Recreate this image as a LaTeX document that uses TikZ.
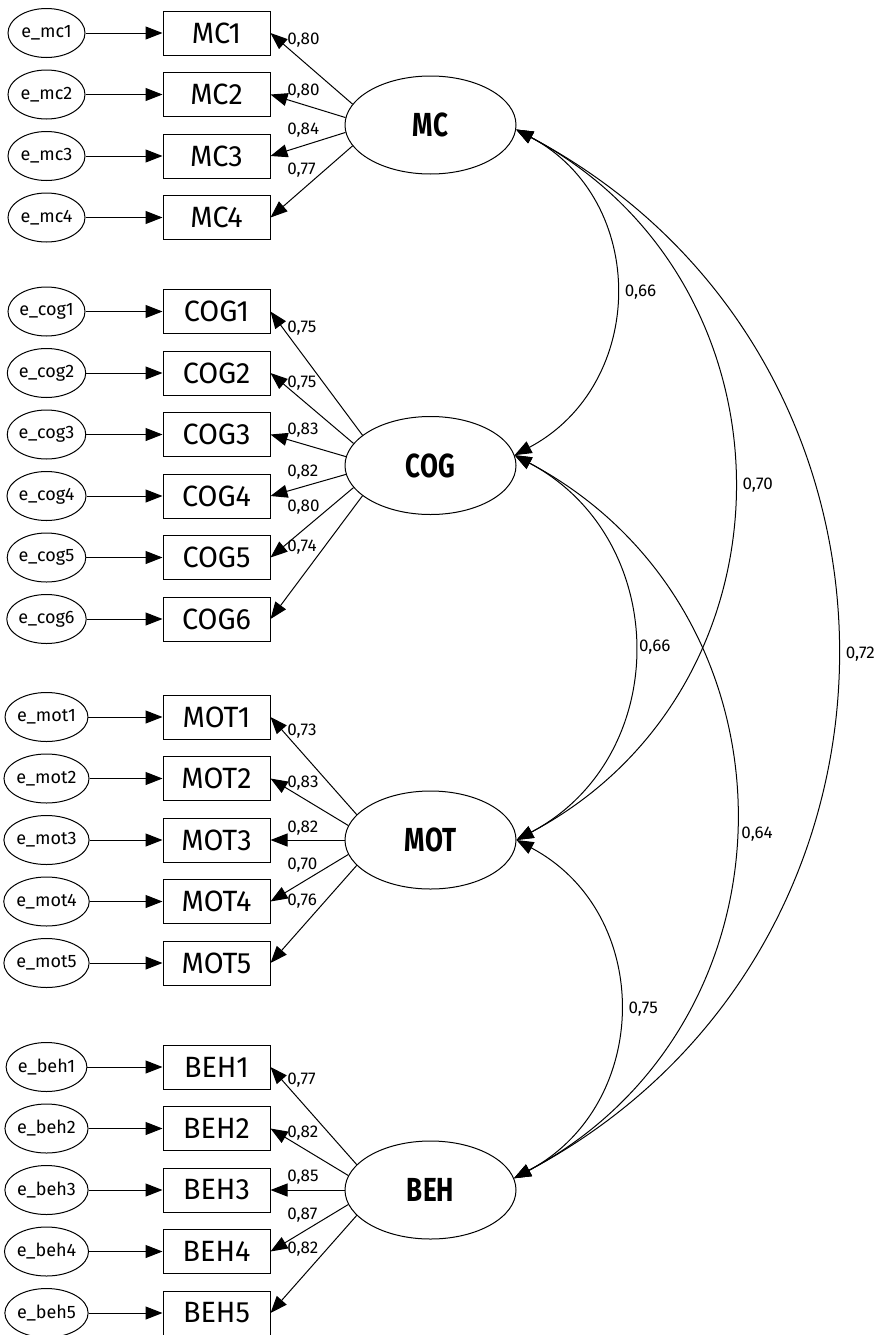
\documentclass[tikz,border=0pt]{standalone}
\usepackage{fontspec}
\setmainfont{Fira Sans}
\newfontfamily\obsfont[FakeStretch=0.98]{Fira Sans}
\newfontfamily\latfont[FakeStretch=0.78]{Fira Sans}
\usetikzlibrary{shapes.geometric}
\usetikzlibrary{arrows.meta}

\begin{document}
\begin{tikzpicture}[x=0.75pt, y=-0.75pt]

  \tikzset{err/.style = {shape=ellipse,draw,line width=0.75pt,minimum width=57.75pt,minimum height=36.75pt,inner sep=0pt,font=\fontsize{13.5}{15}\selectfont}}
  \tikzset{obs/.style = {shape=rectangle,draw,line width=0.75pt,minimum width=80.25pt,minimum height=33pt,inner sep=0pt,font=\obsfont\fontsize{22}{24}\selectfont}}
  \tikzset{lat/.style = {shape=ellipse,draw,fill=white,line width=0.75pt,minimum width=128.25pt,minimum height=73.5pt,inner sep=0pt,font=\latfont\bfseries\fontsize{25}{28}\selectfont}}
  \tikzset{edge/.style = {-{Triangle[length=12.75pt,width=9.75pt]},line width=0.75pt}}
  \tikzset{cov/.style = {{Triangle[length=12.75pt,width=9.75pt]}-{Triangle[length=12.75pt,width=9.75pt]},line width=0.75pt,out=-28,in=28,looseness=1.18}}
  \tikzset{coef/.style = {anchor=west,inner sep=0pt,font=\fontsize{12.75}{14}\selectfont}}

  \useasboundingbox (0,0) rectangle (882,1335);

  % latent factors
  \node[lat] (MC)  at (430.5,125)   {MC};
  \node[lat] (COG) at (430.5,465.5) {COG};
  \node[lat] (MOT) at (430.5,840)   {MOT};
  \node[lat] (BEH) at (430.5,1190)  {BEH};

  % indicators
  \node[obs] (MC1) at (216.5,33)    {MC1};
  \node[obs] (MC2) at (216.5,94.5)  {MC2};
  \node[obs] (MC3) at (216.5,156)   {MC3};
  \node[obs] (MC4) at (216.5,217.5) {MC4};

  \node[obs] (COG1) at (216.5,311.5) {COG1};
  \node[obs] (COG2) at (216.5,373)   {COG2};
  \node[obs] (COG3) at (216.5,434.5) {COG3};
  \node[obs] (COG4) at (216.5,496)   {COG4};
  \node[obs] (COG5) at (216.5,557.5) {COG5};
  \node[obs] (COG6) at (216.5,619)   {COG6};

  \node[obs] (MOT1) at (216.5,717)   {MOT1};
  \node[obs] (MOT2) at (216.5,778.5) {MOT2};
  \node[obs] (MOT3) at (216.5,840)   {MOT3};
  \node[obs] (MOT4) at (216.5,901.5) {MOT4};
  \node[obs] (MOT5) at (216.5,963)   {MOT5};

  \node[obs] (BEH1) at (216.5,1067)   {BEH1};
  \node[obs] (BEH2) at (216.5,1128.5) {BEH2};
  \node[obs] (BEH3) at (216.5,1190)   {BEH3};
  \node[obs] (BEH4) at (216.5,1251.5) {BEH4};
  \node[obs] (BEH5) at (216.5,1313)   {BEH5};

  % error terms
  \node[err] (eMC1) at (46.5,33)    {e\_mc1};
  \node[err] (eMC2) at (46.5,94.5)  {e\_mc2};
  \node[err] (eMC3) at (46.5,156)   {e\_mc3};
  \node[err] (eMC4) at (46.5,217.5) {e\_mc4};

  \node[err] (eCOG1) at (46.5,311.5) {e\_cog1};
  \node[err] (eCOG2) at (46.5,373)   {e\_cog2};
  \node[err] (eCOG3) at (46.5,434.5) {e\_cog3};
  \node[err] (eCOG4) at (46.5,496)   {e\_cog4};
  \node[err] (eCOG5) at (46.5,557.5) {e\_cog5};
  \node[err] (eCOG6) at (46.5,619)   {e\_cog6};

  \node[err] (eMOT1) at (46.5,717)   {e\_mot1};
  \node[err] (eMOT2) at (46.5,778.5) {e\_mot2};
  \node[err] (eMOT3) at (46.5,840)   {e\_mot3};
  \node[err] (eMOT4) at (46.5,901.5) {e\_mot4};
  \node[err] (eMOT5) at (46.5,963)   {e\_mot5};

  \node[err] (eBEH1) at (46.5,1067)   {e\_beh1};
  \node[err] (eBEH2) at (46.5,1128.5) {e\_beh2};
  \node[err] (eBEH3) at (46.5,1190)   {e\_beh3};
  \node[err] (eBEH4) at (46.5,1251.5) {e\_beh4};
  \node[err] (eBEH5) at (46.5,1313)   {e\_beh5};

  % error paths
  \draw[edge] (eMC1) -- (MC1);
  \draw[edge] (eMC2) -- (MC2);
  \draw[edge] (eMC3) -- (MC3);
  \draw[edge] (eMC4) -- (MC4);
  \draw[edge] (eCOG1) -- (COG1);
  \draw[edge] (eCOG2) -- (COG2);
  \draw[edge] (eCOG3) -- (COG3);
  \draw[edge] (eCOG4) -- (COG4);
  \draw[edge] (eCOG5) -- (COG5);
  \draw[edge] (eCOG6) -- (COG6);
  \draw[edge] (eMOT1) -- (MOT1);
  \draw[edge] (eMOT2) -- (MOT2);
  \draw[edge] (eMOT3) -- (MOT3);
  \draw[edge] (eMOT4) -- (MOT4);
  \draw[edge] (eMOT5) -- (MOT5);
  \draw[edge] (eBEH1) -- (BEH1);
  \draw[edge] (eBEH2) -- (BEH2);
  \draw[edge] (eBEH3) -- (BEH3);
  \draw[edge] (eBEH4) -- (BEH4);
  \draw[edge] (eBEH5) -- (BEH5);

  % loadings
  \draw[edge] (MC.165) -- (MC1.east);
  \draw[edge] (MC.175) -- (MC2.east);
  \draw[edge] (MC.185) -- (MC3.east);
  \draw[edge] (MC.195) -- (MC4.east);
  \draw[edge] (COG.156) -- (COG1.east);
  \draw[edge] (COG.164) -- (COG2.east);
  \draw[edge] (COG.174) -- (COG3.east);
  \draw[edge] (COG.186) -- (COG4.east);
  \draw[edge] (COG.196) -- (COG5.east);
  \draw[edge] (COG.204) -- (COG6.east);
  \draw[edge] (MOT.161) -- (MOT1.east);
  \draw[edge] (MOT.170) -- (MOT2.east);
  \draw[edge] (MOT.180) -- (MOT3.east);
  \draw[edge] (MOT.190) -- (MOT4.east);
  \draw[edge] (MOT.199) -- (MOT5.east);
  \draw[edge] (BEH.161) -- (BEH1.east);
  \draw[edge] (BEH.170) -- (BEH2.east);
  \draw[edge] (BEH.180) -- (BEH3.east);
  \draw[edge] (BEH.190) -- (BEH4.east);
  \draw[edge] (BEH.199) -- (BEH5.east);

  % loading values
  \node[coef] (lMC1) at (287,40)  {0,80};
  \node[coef] (lMC2) at (287,91)  {0,80};
  \node[coef] (lMC3) at (287,130) {0,84};
  \node[coef] (lMC4) at (287,170) {0,77};
  \node[coef] (lCOG1) at (287,328) {0,75};
  \node[coef] (lCOG2) at (287,383) {0,75};
  \node[coef] (lCOG3) at (287,430) {0,83};
  \node[coef] (lCOG4) at (287,472) {0,82};
  \node[coef] (lCOG5) at (287,507) {0,80};
  \node[coef] (lCOG6) at (287,547) {0,74};
  \node[coef] (lMOT1) at (287,731) {0,73};
  \node[coef] (lMOT2) at (287,783) {0,83};
  \node[coef] (lMOT3) at (287,828) {0,82};
  \node[coef] (lMOT4) at (287,865) {0,70};
  \node[coef] (lMOT5) at (287,901) {0,76};
  \node[coef] (lBEH1) at (287,1080) {0,77};
  \node[coef] (lBEH2) at (287,1133) {0,82};
  \node[coef] (lBEH3) at (287,1177) {0,85};
  \node[coef] (lBEH4) at (287,1215) {0,87};
  \node[coef] (lBEH5) at (287,1249) {0,82};

  % correlations
  \draw[cov] (MC.-3) to node[coef, midway, xshift=7pt] {0,66} (COG.7);
  \draw[cov] (MC.-3) to node[coef, midway, xshift=7pt] {0,70} (MOT.0);
  \draw[cov] (MC.-3) to node[coef, midway, xshift=7pt] {0,72} (BEH.8);
  \draw[cov] (COG.7) to node[coef, midway, xshift=4pt] {0,66} (MOT.0);
  \draw[cov] (COG.7) to node[coef, pos=0.52, xshift=5pt] {0,64} (BEH.8);
  \draw[cov] (MOT.0) to node[coef, midway, xshift=7pt] {0,75} (BEH.8);
\end{tikzpicture}
\end{document}
